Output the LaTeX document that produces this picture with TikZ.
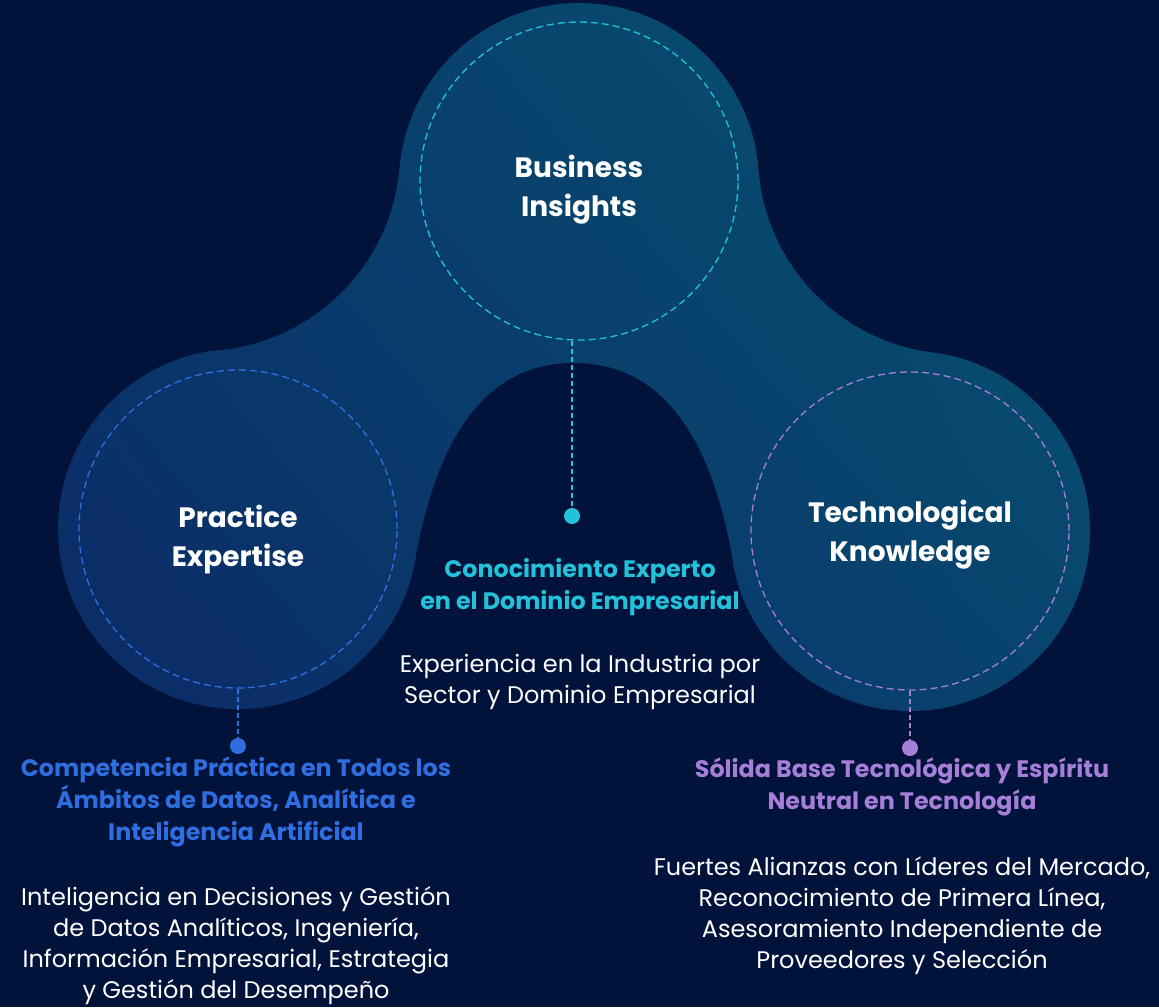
\documentclass[tikz,border=0pt]{standalone}
\usepackage{fontspec}
\setmainfont{Poppins}
\usetikzlibrary{shadings}
\begin{document}
\begin{tikzpicture}[x=1pt,y=-1pt]
\definecolor{bg}{HTML}{01133A}
\definecolor{blobLL}{HTML}{0C2364}
\definecolor{blobLR}{HTML}{093F6E}
\definecolor{blobUL}{HTML}{0A386C}
\definecolor{blobUR}{HTML}{06566F}
\definecolor{cyanc}{HTML}{22C2DB}
\definecolor{bluec}{HTML}{2F6EE0}
\definecolor{purplec}{HTML}{A67FD8}
\tikzset{
  ring/.style={circle, draw, line width=1.3pt, dash pattern=on 7pt off 4pt, minimum size=318pt, inner sep=0pt},
  title/.style={text=white, font=\fontsize{28}{39}\selectfont\bfseries, align=center, inner sep=0pt},
  head/.style={font=\fontsize{23.8}{32}\selectfont\bfseries, align=center, inner sep=0pt, anchor=north},
  body/.style={text=white, font=\fontsize{24}{31}\selectfont, align=center, inner sep=0pt, anchor=north},
  dotc/.style={circle, inner sep=0pt, minimum size=16pt},
  link/.style={line width=1.4pt, dash pattern=on 5pt off 3pt},
  blobshade/.style={lower left=blobLL, lower right=blobLR, upper left=blobUL, upper right=blobUR},
}
\newcommand\blobpiece[1]{\begin{scope}\clip #1; \shade[blobshade] (0,0) rectangle (1159,1007);\end{scope}}
\useasboundingbox (0,0) rectangle (1159,1007);
\fill[bg] (0,0) rectangle (1159,1007);
% blob: three lobes and a bridge
\blobpiece{(579,183) circle[radius=180]}
\blobpiece{(238,529) circle[radius=180]}
\blobpiece{(910,531) circle[radius=180]}
\blobpiece{(579,183) -- (200,151) -- (238,529) -- (415.3,560) -- (732.7,560) -- (910,531) -- (958,154) -- cycle}
% concave cut-outs
\fill[bg] (200,151) circle[radius=200];
\fill[bg] (958,154) circle[radius=200];
\fill[bg] (415.3,560) .. controls (437.7,432) and (489,363) .. (574,363)
  .. controls (659,363) and (710.3,432) .. (732.7,560) -- (732.7,720) -- (415.3,720) -- cycle;
% dashed rings
\node[ring, draw=cyanc] (circT) at (579,181) {};
\node[ring, draw=bluec] (circL) at (238,529) {};
\node[ring, draw=purplec] (circR) at (910,531) {};
% titles
\node[title] (tT) at (579,190) {Business\\Insights};
\node[title] (tL) at (238,540) {Practice\\Expertise};
\node[title] (tR) at (910,535) {Technological\\Knowledge};
% dots
\node[dotc, fill=cyanc] (dotT) at (572,516) {};
\node[dotc, fill=bluec] (dotL) at (238,746) {};
\node[dotc, fill=purplec] (dotR) at (910,748) {};
% connectors
\draw[link, cyanc] (dotT |- circT.south) -- (dotT);
\draw[link, bluec] (circL.south) -- (dotL);
\draw[link, purplec] (circR.south) -- (dotR);
% texts
\node[head, text=cyanc] (hT) at (580,558) {Conocimiento Experto\\en el Dominio Empresarial};
\node[body] (bT) at (580,654) {Experiencia en la Industria por\\Sector y Dominio Empresarial};
\node[head, text=bluec] (hL) at (236,757) {Competencia Práctica en Todos los\\Ámbitos de Datos, Analítica e\\Inteligencia Artificial};
\node[body] (bL) at (236,886) {Inteligencia en Decisiones y Gestión\\de Datos Analíticos, Ingeniería,\\Información Empresarial, Estrategia\\y Gestión del Desempeño};
\node[head, text=purplec] (hR) at (902,757) {Sólida Base Tecnológica y Espíritu\\Neutral en Tecnología};
\node[body] (bR) at (902,857) {Fuertes Alianzas con Líderes del Mercado,\\Reconocimiento de Primera Línea,\\Asesoramiento Independiente de\\Proveedores y Selección};
\end{tikzpicture}
\end{document}
